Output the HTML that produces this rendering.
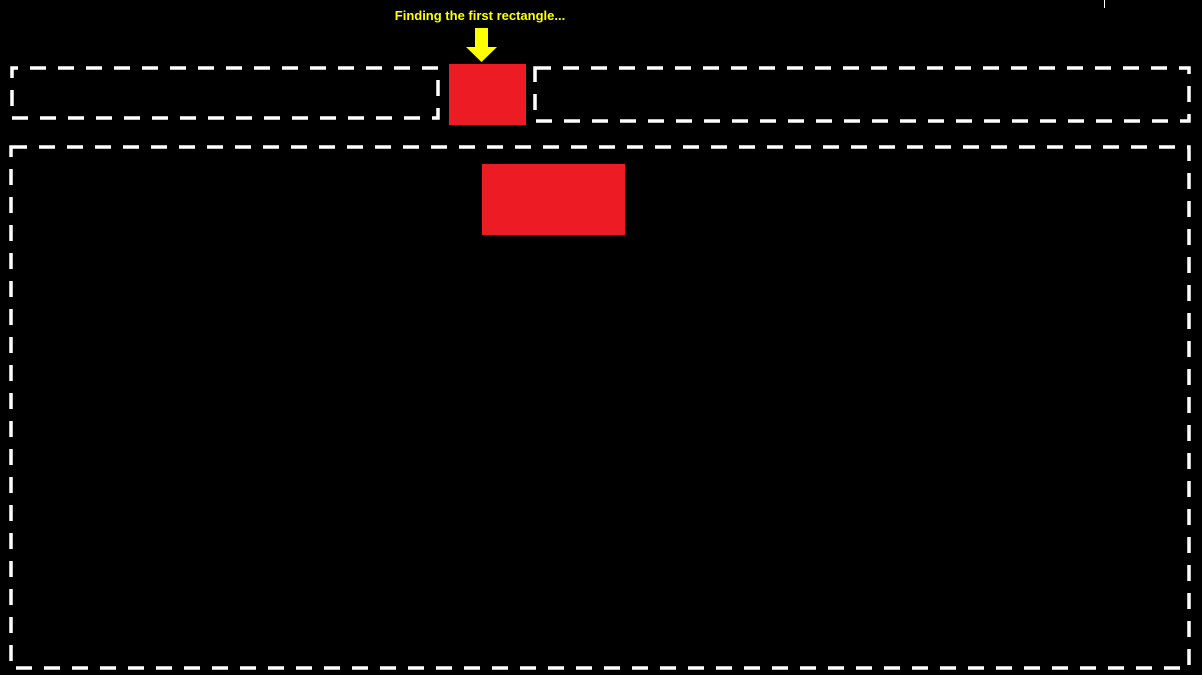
<!DOCTYPE html>
<html><head><style>
body{margin:0;background:#000;width:1202px;height:675px;overflow:hidden;position:relative}
</style></head><body>
<svg width="1202" height="675" style="position:absolute;left:0;top:0">
<g fill="none" stroke="#fff" stroke-width="3.5" stroke-dasharray="16 12">
<path d="M438,68 H12 V118 H438 V68"/>
<path d="M535,68 H1189 V121 H535 Z"/>
<rect x="11" y="147" width="1178" height="521"/>
</g>
<rect x="449" y="64" width="77" height="61" fill="#ed1c24"/>
<rect x="482" y="164" width="143" height="71" fill="#ed1c24"/>
<polygon points="475,28 488,28 488,47 497,47 481.5,62 466,47 475,47" fill="#ffff00"/>
<line x1="1104.5" y1="0" x2="1104.5" y2="8" stroke="#fff" stroke-width="1"/>
<text x="480" y="20" fill="#ffff00" font-family="Liberation Sans, sans-serif" font-weight="bold" font-size="13" text-anchor="middle">Finding the first rectangle...</text>
</svg>
</body></html>
